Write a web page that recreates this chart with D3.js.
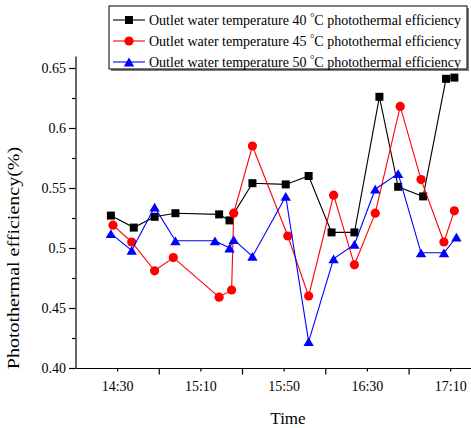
<!DOCTYPE html>
<html>
<head>
<meta charset="utf-8">
<script src="https://cdn.jsdelivr.net/npm/d3@7/dist/d3.min.js"></script>
<style>
  html, body { margin: 0; padding: 0; background: #fff; }
  svg { display: block; }
  text { font-family: "Liberation Serif", "Times New Roman", serif; fill: #000; }
</style>
</head>
<body>
<svg id="chart" width="471" height="428"></svg>
<script>
// Measurement times and photothermal efficiency for each outlet water temperature
const times40 = ["14:27","14:38","14:48","14:58","15:19","15:24","15:35","15:51","16:02","16:13","16:24","16:36","16:45","16:57","17:08","17:12"];
const eff40   = [0.527,0.517,0.526,0.529,0.528,0.523,0.554,0.553,0.560,0.513,0.513,0.626,0.551,0.543,0.641,0.642];

const times45 = ["14:28","14:37","14:48","14:57","15:19","15:25","15:26","15:35","15:52","16:02","16:14","16:24","16:34","16:46","16:56","17:07","17:12"];
const eff45   = [0.519,0.505,0.481,0.492,0.459,0.465,0.529,0.585,0.510,0.460,0.544,0.486,0.529,0.618,0.557,0.505,0.531];

const times50 = ["14:27","14:37","14:48","14:58","15:17","15:24","15:26","15:35","15:51","16:02","16:14","16:24","16:34","16:45","16:56","17:07","17:13"];
const eff50   = [0.512,0.498,0.534,0.506,0.506,0.500,0.507,0.493,0.543,0.422,0.491,0.503,0.549,0.562,0.496,0.496,0.509];

const seriesTemps = ["40", "45", "50"];
const seriesColors = ["#000000", "#ff0000", "#0000ff"];
const seriesShapes = ["square", "circle", "triangle"];

const xLabelTimes = ["14:30","15:10","15:50","16:30","17:10"];
const xMinorTimes = ["14:50","15:30","16:10","16:50"];
const yMajor = [0.40,0.45,0.50,0.55,0.60,0.65];
const yMajorLabels = ["0.40","0.45","0.5","0.55","0.6","0.65"];
const yMinor = [0.425,0.475,0.525,0.575,0.625];

const parse = d3.timeParse("%H:%M");
const svg = d3.select("#chart");
const serif = '"Liberation Serif", "Times New Roman", serif';

const plotLeft = 75.5, plotRight = 471, plotTop = 56, plotBottom = 368;

const x = d3.scaleTime()
  .domain([parse("14:10"), parse("17:20")])
  .range([plotLeft, plotRight]);
const y = d3.scaleLinear()
  .domain([0.40, 0.66])
  .range([plotBottom, plotTop]);

// Axes: labelled short ticks plus longer unlabelled ones in between
const xAxisLabeled = d3.axisBottom(x)
  .tickValues(xLabelTimes.map(parse))
  .tickFormat(d3.timeFormat("%H:%M"))
  .tickSizeInner(3.5).tickSizeOuter(0).tickPadding(10);
const xAxisLong = d3.axisBottom(x)
  .tickValues(xMinorTimes.map(parse))
  .tickFormat("")
  .tickSizeInner(6.5).tickSizeOuter(0);

const gx = svg.append("g").attr("transform", `translate(0,${plotBottom})`).call(xAxisLabeled);
const gx2 = svg.append("g").attr("transform", `translate(0,${plotBottom})`).call(xAxisLong);
gx2.select(".domain").remove();

const yAxis = d3.axisLeft(y)
  .tickValues(yMajor)
  .tickFormat((d, i) => yMajorLabels[i])
  .tickSizeInner(6.5).tickSizeOuter(0).tickPadding(3);
const yAxisMinor = d3.axisLeft(y)
  .tickValues(yMinor).tickFormat("")
  .tickSizeInner(3.5).tickSizeOuter(0);

const gy = svg.append("g").attr("transform", `translate(${plotLeft},0)`).call(yAxis);
const gy2 = svg.append("g").attr("transform", `translate(${plotLeft},0)`).call(yAxisMinor);
gy2.select(".domain").remove();

svg.selectAll("g").attr("font-family", serif);
svg.selectAll(".tick text")
  .style("font-family", serif)
  .style("font-size", "14px");
svg.selectAll(".domain, .tick line").attr("stroke", "#000").attr("stroke-width", 1.2);

// Axis titles
svg.append("text")
  .attr("x", 288).attr("y", 424)
  .attr("text-anchor", "middle")
  .style("font-size", "17px")
  .text("Time");
svg.append("text")
  .attr("transform", "translate(19,258) scale(0.8,1) rotate(-90)")
  .attr("text-anchor", "middle")
  .style("font-size", "20px")
  .text("Photothermal efficiency(%)");

// Marker drawing
function marker(g, shape, color, cx, cy) {
  if (shape === "square") {
    g.append("rect").attr("x", cx - 4).attr("y", cy - 4).attr("width", 8).attr("height", 8).attr("fill", color);
  } else if (shape === "circle") {
    g.append("circle").attr("cx", cx).attr("cy", cy).attr("r", 4.6).attr("fill", color);
  } else {
    const w = 5.2, h = 4.4;
    g.append("path")
      .attr("d", `M${cx},${cy - h}L${cx + w},${cy + h}L${cx - w},${cy + h}Z`)
      .attr("fill", color);
  }
}

const allSeries = [
  { t: times40, v: eff40 },
  { t: times45, v: eff45 },
  { t: times50, v: eff50 }
];

const line = d3.line().x(d => x(d[0])).y(d => y(d[1]));

allSeries.forEach((s, i) => {
  const pts = s.t.map((t, j) => [parse(t), s.v[j]]);
  const g = svg.append("g");
  g.append("path")
    .attr("d", line(pts))
    .attr("fill", "none")
    .attr("stroke", seriesColors[i])
    .attr("stroke-width", 1.1);
  pts.forEach(p => marker(g, seriesShapes[i], seriesColors[i], x(p[0]), y(p[1])));
});

// Legend with drop shadow
const lg = svg.append("g");
lg.append("rect").attr("x", 111).attr("y", 8).attr("width", 358).attr("height", 63).attr("fill", "#808080");
lg.append("rect").attr("x", 109).attr("y", 6).attr("width", 358).attr("height", 63)
  .attr("fill", "#fff").attr("stroke", "#000").attr("stroke-width", 1);

seriesTemps.forEach((temp, i) => {
  const cy = 20 + i * 21;
  lg.append("line").attr("x1", 113).attr("x2", 145).attr("y1", cy).attr("y2", cy)
    .attr("stroke", seriesColors[i]).attr("stroke-width", 1.1);
  marker(lg, seriesShapes[i], seriesColors[i], 129, cy);
  const t = lg.append("text").attr("x", 149).attr("y", cy + 5).style("font-size", "14px");
  t.append("tspan").text(`Outlet water temperature ${temp} `);
  t.append("tspan").attr("dy", -4).style("font-size", "11px").text("°");
  t.append("tspan").attr("dy", 4).text("C photothermal efficiency");
});
</script>
</body>
</html>
